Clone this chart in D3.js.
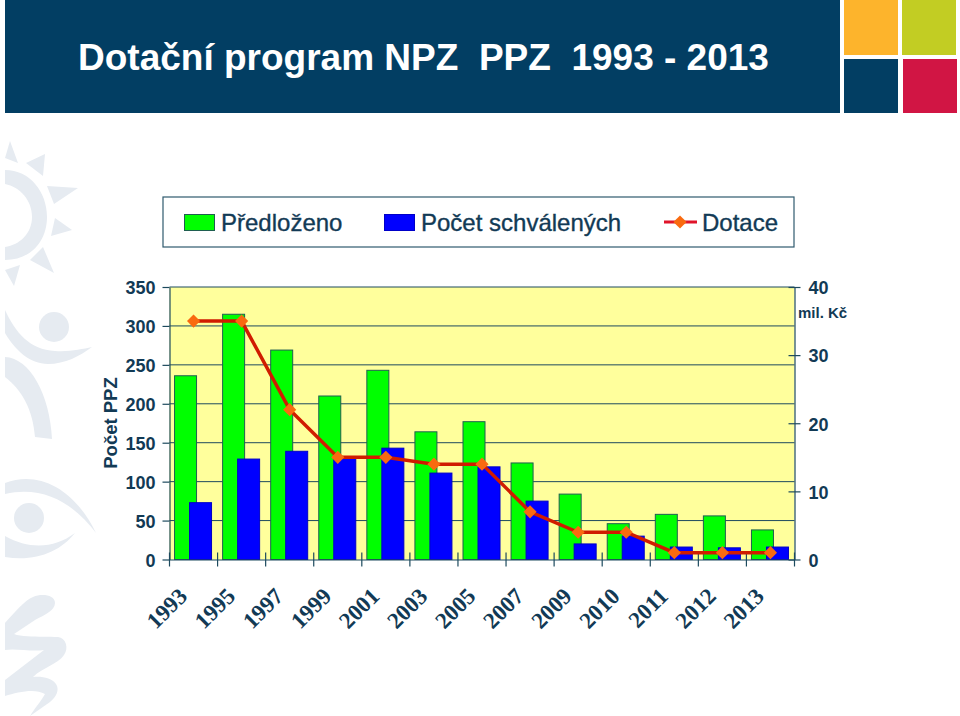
<!DOCTYPE html>
<html>
<head>
<meta charset="utf-8">
<script src="https://cdnjs.cloudflare.com/ajax/libs/d3/7.8.5/d3.min.js"></script>
<style>
  body { margin: 0; background: #fff; }
  svg { display: block; }
  text { font-family: "Liberation Sans", Arial, sans-serif; }
</style>
</head>
<body>
<svg id="chart" width="960" height="716"></svg>
<script>
const years = ['1993', '1995', '1997', '1999', '2001', '2003', '2005', '2007', '2009', '2010', '2011', '2012', '2013']
const predlozeno = [236, 315, 269, 210, 243, 164, 177, 124, 84, 46, 58, 56, 38]
const schvaleno = [73, 129, 139, 130, 143, 111, 119, 75, 20, 30, 16, 15, 16]
const dotace = [35, 35, 22, 15, 15, 14, 14, 7, 4, 4, 1, 1, 1]
const leftTicks = [0, 50, 100, 150, 200, 250, 300, 350]
const rightTicks = [0, 10, 20, 30, 40]

const ink = '#123a55'
const gridColor = '#1d4a5e'
const svg = d3.select('#chart')

// background watermark
const mark = svg.append('g').attr('fill', '#e6ebf1')
const sunPeaks = [
  'M10,141 L18,163 L5,158Z', 'M45,154 L43,176 L26,163Z', 'M78,188 L54,204 L47,186Z',
  'M72,230 L51,236 L55,218Z', 'M54,273 L30,260 L43,247Z', 'M14,286 L5,270 L20,265Z',
]
sunPeaks.forEach(d => mark.append('path').attr('d', d))
mark.append('path').attr('d', 'M5,170 C30,170 47,192 47,217 C47,242 30,260 5,260 L5,247 C20,245 32,233 32,217 C32,200 20,187 5,184Z')
mark.append('circle').attr('cx', 54).attr('cy', 327).attr('r', 15)
mark.append('path').attr('d', 'M5,310 C15,332 30,350 55,351 C70,352 82,349 92,347 C80,356 65,364 48,364 C30,364 15,350 5,333Z')
mark.append('path').attr('d', 'M5,357 C30,358 50,395 52,439 L35,437 C33,410 22,390 5,377Z')
mark.append('circle').attr('cx', 29).attr('cy', 518).attr('r', 15)
mark.append('path').attr('d', 'M5,483 C40,470 75,490 96,533 C75,505 45,485 5,494Z')
mark.append('path').attr('d', 'M5,536 C30,550 55,548 75,533 C60,552 35,562 5,557Z')
mark.append('path').attr('d', 'M5,623 C15,612 25,600 33,597 C42,593 55,595 55,603 C55,610 45,615 35,620 L14,634 C25,638 45,636 58,637 C66,638 69,648 64,655 C58,664 42,668 33,677 C42,676 52,678 56,684 C60,690 56,697 50,702 L30,716 C35,708 42,700 45,694 C35,688 18,692 5,696 L5,680 L44,650 C32,652 15,648 5,650Z')

// header
svg.append('rect').attr('x', 5).attr('y', 0).attr('width', 835).attr('height', 113).attr('fill', '#023e63')
svg.append('rect').attr('x', 844).attr('y', 0).attr('width', 54).attr('height', 55).attr('fill', '#fdb42c')
svg.append('rect').attr('x', 902).attr('y', 0).attr('width', 54).attr('height', 55).attr('fill', '#c2cd23')
svg.append('rect').attr('x', 844).attr('y', 59).attr('width', 54).attr('height', 54).attr('fill', '#023e63')
svg.append('rect').attr('x', 903).attr('y', 59).attr('width', 54).attr('height', 54).attr('fill', '#d11544')
svg.append('text').attr('x', 78).attr('y', 70)
  .attr('fill', '#fff').attr('font-size', 37).attr('font-weight', 'bold')
  .style('white-space', 'pre')
  .text('Dotační program NPZ  PPZ  1993 - 2013')

// scales
const plot = { left: 169.5, right: 794.5, top: 287, bottom: 559.5 }
const x = d3.scaleBand().domain(years).range([plot.left, plot.right])
const yLeft = d3.scaleLinear().domain([0, 350]).range([plot.bottom, plot.top])
const yRight = d3.scaleLinear().domain([0, 40]).range([plot.bottom, plot.top])
const center = d => x(d) + x.bandwidth() / 2

svg.append('rect')
  .attr('x', plot.left).attr('y', plot.top)
  .attr('width', plot.right - plot.left).attr('height', plot.bottom - plot.top)
  .attr('fill', '#ffff9c')

svg.append('g').selectAll('line')
  .data(leftTicks.slice(1))
  .join('line')
  .attr('x1', plot.left).attr('x2', plot.right)
  .attr('y1', d => yLeft(d)).attr('y2', d => yLeft(d))
  .attr('stroke', gridColor).attr('stroke-width', 1)

// bars
const barWidth = 22
const drawBars = (values, offset, fill) => svg.append('g').selectAll('rect')
  .data(values)
  .join('rect')
  .attr('x', (d, i) => center(years[i]) + offset)
  .attr('y', d => yLeft(d))
  .attr('width', barWidth)
  .attr('height', d => plot.bottom - yLeft(d))
  .attr('fill', fill)
  .attr('stroke', '#1f5f50')
  .attr('stroke-width', 1)

drawBars(predlozeno, -19, '#00ff00')
drawBars(schvaleno, -4, '#0000ff').attr('stroke', '#0000c8')

// axes
const styleAxis = g => {
  g.selectAll('path').attr('stroke', gridColor).attr('stroke-width', 1.2)
  g.selectAll('line').attr('stroke', gridColor).attr('stroke-width', 1.2)
  g.selectAll('text').attr('fill', ink).attr('font-size', 18).attr('font-weight', 'bold')
    .attr('font-family', '"Liberation Sans", Arial, sans-serif')
    .attr('y', 1)
}

svg.append('g')
  .attr('transform', `translate(${plot.left},0)`)
  .call(d3.axisLeft(yLeft).tickValues(leftTicks).tickSize(7).tickSizeOuter(0).tickPadding(7))
  .call(styleAxis)

svg.append('g')
  .attr('transform', `translate(${plot.right},0)`)
  .call(d3.axisRight(yRight).tickValues(rightTicks).tickSize(6).tickSizeOuter(0).tickPadding(8))
  .call(styleAxis)
  .call(g => g.selectAll('.tick line').attr('x1', -6))

svg.append('g').selectAll('line')
  .data([...years.map(d => x(d)), plot.right])
  .join('line')
  .attr('x1', d => d).attr('x2', d => d)
  .attr('y1', plot.bottom - 7).attr('y2', plot.bottom + 7)
  .attr('stroke', gridColor).attr('stroke-width', 1.2)

const xAxis = svg.append('g')
  .attr('transform', `translate(0,${plot.bottom})`)
  .call(d3.axisBottom(x).tickSize(0).tickSizeOuter(0))
xAxis.select('path').attr('stroke', gridColor).attr('stroke-width', 1.2)
xAxis.selectAll('text')
  .attr('fill', ink).attr('font-size', 23).attr('font-weight', 'bold')
  .style('font-family', '"Liberation Serif", serif')
  .attr('text-anchor', 'end')
  .attr('dy', 0).attr('y', 0)
  .attr('transform', 'translate(-5,38) rotate(-45)')

svg.append('text')
  .attr('transform', 'translate(117,423) rotate(-90)')
  .attr('text-anchor', 'middle')
  .attr('fill', ink).attr('font-size', 18.5).attr('font-weight', 'bold')
  .text('Počet PPZ')

svg.append('text').attr('x', 798).attr('y', 318)
  .attr('fill', ink).attr('font-size', 15).attr('font-weight', 'bold')
  .text('mil. Kč')

// line
const line = d3.line()
  .x((d, i) => center(years[i]))
  .y(d => yRight(d))
svg.append('path').datum(dotace)
  .attr('d', line)
  .attr('fill', 'none').attr('stroke', '#d01c00').attr('stroke-width', 3.5)

const diamond = d3.symbol().type(d3.symbolDiamond2).size(110)
svg.append('g').selectAll('path')
  .data(dotace)
  .join('path')
  .attr('d', diamond)
  .attr('transform', (d, i) => `translate(${center(years[i])},${yRight(d)})`)
  .attr('fill', '#f96a10')

// legend
const legend = svg.append('g')
legend.append('rect').attr('x', 163).attr('y', 197).attr('width', 631).attr('height', 50)
  .attr('fill', '#fff').attr('stroke', '#2f5a6e').attr('stroke-width', 1.2)
legend.append('rect').attr('x', 184.5).attr('y', 214.5).attr('width', 30).attr('height', 16)
  .attr('fill', '#00ff00').attr('stroke', '#1f5f50')
legend.append('rect').attr('x', 384.5).attr('y', 214.5).attr('width', 30).attr('height', 16)
  .attr('fill', '#0000ff').attr('stroke', '#0000c8')
legend.append('line').attr('x1', 664).attr('x2', 697).attr('y1', 222).attr('y2', 222)
  .attr('stroke', '#e0142a').attr('stroke-width', 3)
legend.append('path').attr('d', diamond).attr('transform', 'translate(680,222)').attr('fill', '#f96a10')
const legendLabels = ['Předloženo', 'Počet schválených', 'Dotace']
const legendX = [221, 421, 702]
legend.selectAll('text')
  .data(legendLabels)
  .join('text')
  .attr('x', (d, i) => legendX[i]).attr('y', 231)
  .attr('fill', ink).attr('stroke', ink).attr('stroke-width', 0.35).attr('font-size', 24)
  .text(d => d)
</script>
</body>
</html>
